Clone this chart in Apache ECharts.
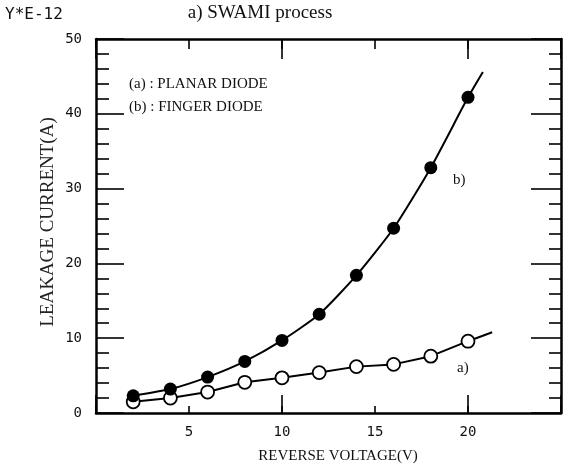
<!DOCTYPE html>
<html>
<head>
<meta charset="utf-8">
<script src="https://cdn.jsdelivr.net/npm/echarts@6/dist/echarts.min.js"></script>
<style>
html,body{margin:0;padding:0;background:#fff;}
#c{width:566px;height:473px;}
</style>
</head>
<body>
<div id="c"></div>
<script>
// Data
const voltage = [2, 4, 6, 8, 10, 12, 14, 16, 18, 20];
const planarA = [1.5, 2.0, 2.8, 4.1, 4.7, 5.4, 6.2, 6.5, 7.6, 9.6];
const fingerB = [2.3, 3.2, 4.8, 6.9, 9.7, 13.2, 18.4, 24.7, 32.8, 42.2];
// fitted line extends beyond the last measured point
const planarLineEnd = [21.3, 10.8];
const fingerLineEnd = [20.8, 45.6];
const xTickLabels = [5, 10, 15, 20];

const black = '#000';
const serif = '"Liberation Serif", "DejaVu Serif", serif';
const mono = '"DejaVu Sans Mono", "Liberation Mono", monospace';

const pairs = (xs, ys) => xs.map((x, i) => [x, ys[i]]);
const curveA = pairs(voltage, planarA).concat([planarLineEnd]);
const curveB = pairs(voltage, fingerB).concat([fingerLineEnd]);

const chart = echarts.init(document.getElementById('c'), null, {renderer: 'canvas'});

function xAx(pos, interval, len, showLine, showLabel) {
  return {
    type: 'value', position: pos, min: 0, max: 25, interval: interval,
    axisLine: {show: showLine, onZero: false, lineStyle: {color: black, width: 2.5}},
    axisTick: {show: true, inside: true, length: len, lineStyle: {color: black, width: 1.6}},
    axisLabel: {
      show: showLabel, margin: 12, color: '#111', fontFamily: mono, fontSize: 14,
      formatter: v => xTickLabels.indexOf(v) >= 0 ? String(v) : ''
    },
    splitLine: {show: false}
  };
}
function yAx(pos, majLen, minLen, showLabel) {
  return {
    type: 'value', position: pos, min: 0, max: 50, interval: 10,
    axisLine: {show: true, onZero: false, lineStyle: {color: black, width: 2.5}},
    axisTick: {show: true, inside: true, length: majLen, lineStyle: {color: black, width: 1.6}},
    minorTick: {show: true, splitNumber: 5, length: minLen, lineStyle: {color: black, width: 1.6}},
    axisLabel: {show: showLabel, margin: 14, color: '#111', fontFamily: mono, fontSize: 14},
    splitLine: {show: false}
  };
}

chart.setOption({
  backgroundColor: '#fff',
  animation: false,
  grid: {left: 96, right: 5, top: 39, bottom: 60},
  xAxis: [
    xAx('bottom', 5, 7, true, true),
    xAx('bottom', 10, 18, false, false),
    xAx('top', 5, 10, true, false),
    xAx('top', 10, 20, false, false)
  ],
  yAxis: [
    yAx('left', 28, 13, true),
    yAx('right', 30, 12, false)
  ],
  series: [
    {type: 'line', xAxisIndex: 0, yAxisIndex: 0, data: curveA, showSymbol: false, smooth: false,
     lineStyle: {color: black, width: 2}, z: 2},
    {type: 'line', xAxisIndex: 0, yAxisIndex: 0, data: curveB, showSymbol: false, smooth: 0.2,
     lineStyle: {color: black, width: 2}, z: 2},
    {type: 'scatter', xAxisIndex: 0, yAxisIndex: 0, data: pairs(voltage, planarA), symbol: 'circle',
     symbolSize: 13, itemStyle: {color: '#fff', borderColor: black, borderWidth: 1.8, opacity: 1}, z: 3},
    {type: 'scatter', xAxisIndex: 0, yAxisIndex: 0, data: pairs(voltage, fingerB), symbol: 'circle',
     symbolSize: 13, itemStyle: {color: black, opacity: 1}, z: 3}
  ],
  graphic: [
    {type: 'text', left: 5, top: 7, style: {text: 'Y*E-12', font: '16px ' + mono, fill: '#111'}},
    {type: 'text', x: 260, y: 13, style: {text: 'a) SWAMI process', font: '19px ' + serif, fill: '#111', textAlign: 'center', textVerticalAlign: 'middle'}},
    {type: 'text', x: 129, y: 84, style: {text: '(a) : PLANAR DIODE', font: '15px ' + serif, fill: '#111', textAlign: 'left', textVerticalAlign: 'middle'}},
    {type: 'text', x: 129, y: 107, style: {text: '(b) : FINGER DIODE', font: '15px ' + serif, fill: '#111', textAlign: 'left', textVerticalAlign: 'middle'}},
    {type: 'text', x: 453, y: 180, style: {text: 'b)', font: '15px ' + serif, fill: '#111', textAlign: 'left', textVerticalAlign: 'middle'}},
    {type: 'text', x: 457, y: 368, style: {text: 'a)', font: '15px ' + serif, fill: '#111', textAlign: 'left', textVerticalAlign: 'middle'}},
    {type: 'text', x: 338, y: 456, style: {text: 'REVERSE VOLTAGE(V)', font: '15px ' + serif, fill: '#111', textAlign: 'center', textVerticalAlign: 'middle'}},
    {type: 'text', x: 48, y: 222, rotation: Math.PI / 2, style: {text: 'LEAKAGE CURRENT(A)', font: '19px ' + serif, fill: '#222', textAlign: 'center', textVerticalAlign: 'middle'}}
  ]
});
</script>
</body>
</html>
